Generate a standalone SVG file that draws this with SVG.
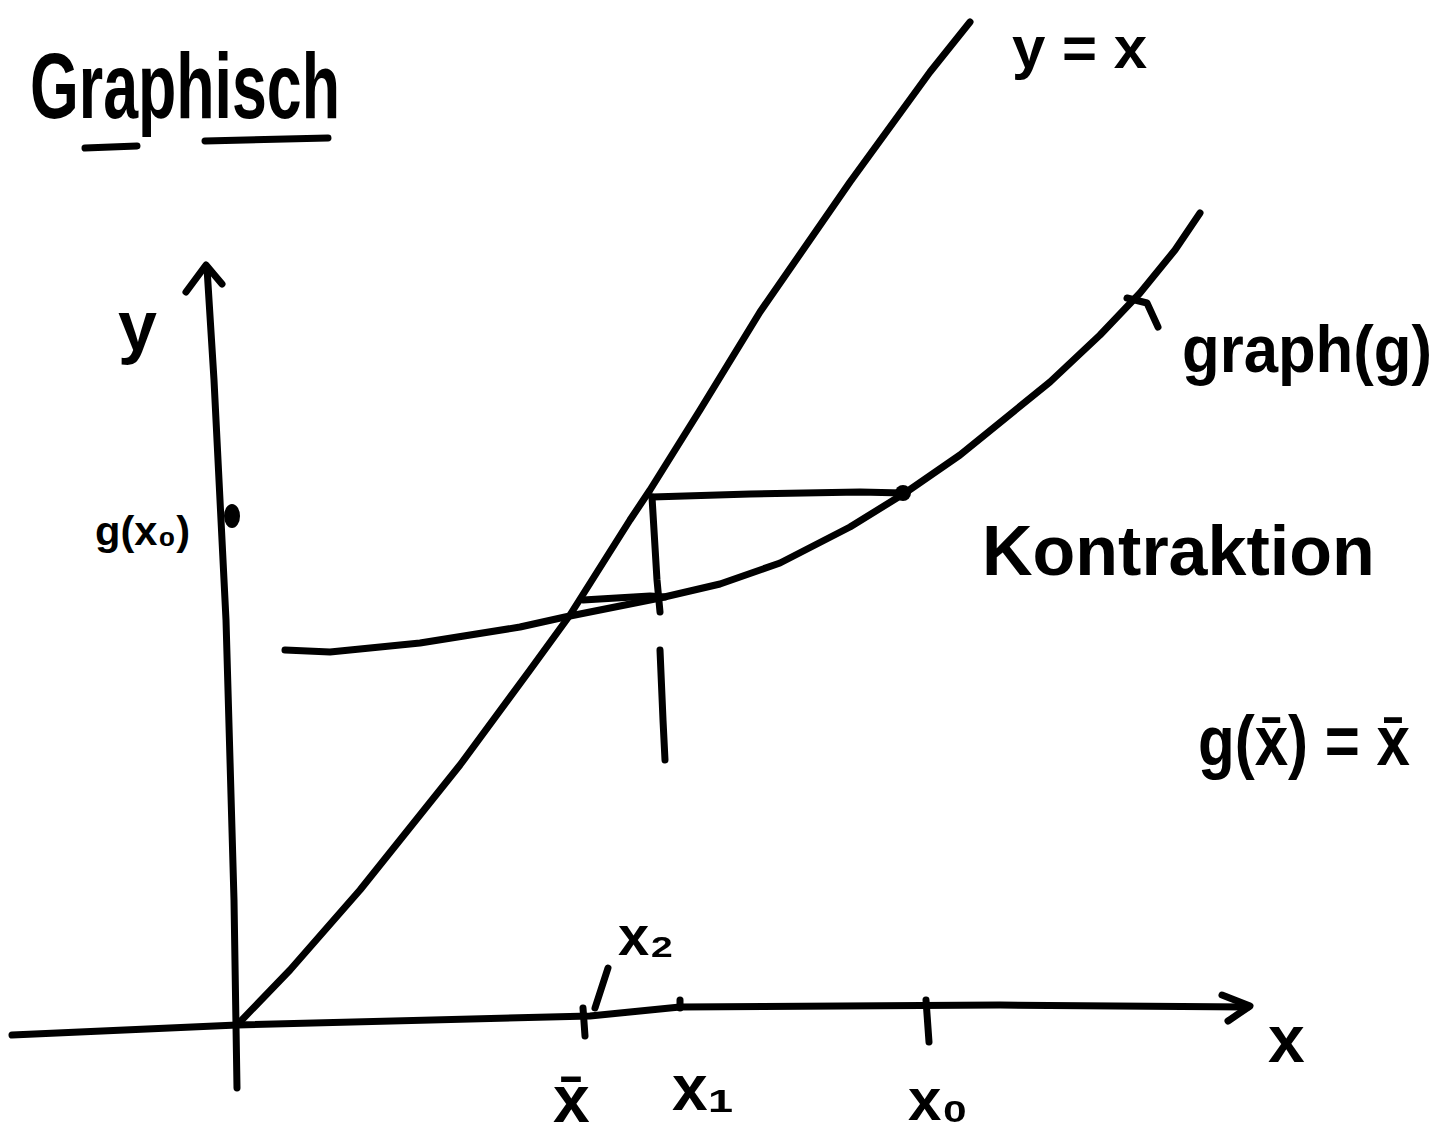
<svg xmlns="http://www.w3.org/2000/svg" width="1450" height="1142" viewBox="0 0 1450 1142">
<style>
.s{fill:none;stroke:#000;stroke-width:7;stroke-linecap:round;stroke-linejoin:round}
.t{font-family:"Liberation Sans","DejaVu Sans",sans-serif;fill:#000;font-weight:bold}
</style>
<rect width="1450" height="1142" fill="#fff"/>
<g id="title">
<text class="t" x="30" y="118" font-size="92" textLength="310" lengthAdjust="spacingAndGlyphs">Graphisch</text>
<path class="s" stroke-width="10" d="M85,148 L137,146"/>
<path class="s" stroke-width="10" d="M205,141 L328,138"/>
</g>
<g id="axes">
<path class="s" d="M237,1088 L234,900 L226,620 L214,380 L207,268"/>
<path class="s" d="M186,292 L206,265 L222,284"/>
<path class="s" d="M12,1035 L237,1025 L590,1016 L680,1007 L1000,1005 L1248,1007"/>
<path class="s" d="M1222,995 L1250,1006 L1228,1021"/>
<ellipse cx="232" cy="516" rx="8" ry="12"/>
</g>
<g id="curves">
<path class="s" d="M237,1025 L290,970 L360,890 L460,765 L530,670 L570,615 L630,520 L650,490 L700,410 L760,312 L850,182 L930,72 L970,22"/>
<path class="s" d="M285,650 L330,652 L420,643 L520,627 L565,617 L600,610 L660,598 L720,584 L780,563 L850,527 L905,493 L960,455 L1050,382 L1100,335 L1140,293 L1175,250 L1200,213"/>
<path class="s" d="M1127,298 L1147,303 L1158,327"/>
</g>
<g id="iteration">
<path class="s" d="M652,497 L750,494 L860,492 L903,493"/>
<circle cx="903" cy="493" r="8"/>
<path class="s" d="M652,497 L657,580 L660,612"/>
<path class="s" d="M660,650 L663,720 L665,760"/>
<path class="s" d="M583,600 L650,596 L665,597"/>
</g>
<g id="ticks">
<path class="s" d="M583,1008 L585,1036"/>
<path class="s" d="M595,1008 L608,968"/>
<path class="s" d="M680,1000 L680,1008"/>
<path class="s" d="M926,1000 L929,1042"/>
</g>
<g id="labels">
<text class="t" x="1012" y="68" font-size="60">y = x</text>
<text class="t" x="1182" y="372" font-size="66" textLength="250" lengthAdjust="spacingAndGlyphs">graph(g)</text>
<text class="t" x="118" y="350" font-size="70">y</text>
<text class="t" x="95" y="545" font-size="40" textLength="95" lengthAdjust="spacingAndGlyphs">g(x₀)</text>
<text class="t" x="982" y="575" font-size="70">Kontraktion</text>
<text class="t" x="1198" y="765" font-size="70" textLength="212" lengthAdjust="spacingAndGlyphs">g(x̄) = x̄</text>
<text class="t" x="1268" y="1062" font-size="66">x</text>
<text class="t" x="553" y="1122" font-size="66">x̄</text>
<text class="t" x="672" y="1110" font-size="64">x₁</text>
<text class="t" x="908" y="1120" font-size="60">x₀</text>
<text class="t" x="618" y="955" font-size="56">x₂</text>
</g>
</svg>
